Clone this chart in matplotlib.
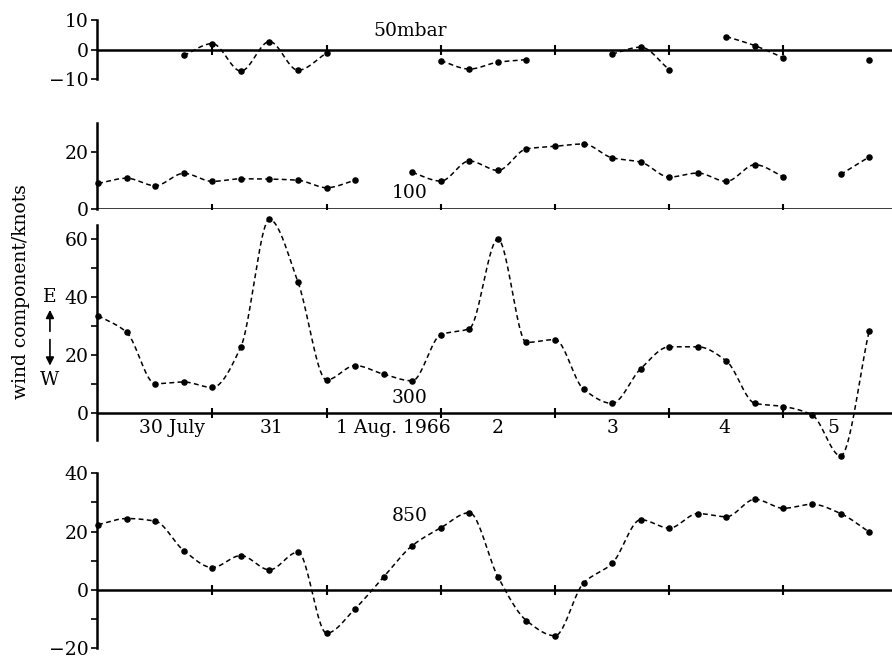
import numpy as np
import matplotlib.pyplot as plt
from matplotlib.patches import FancyArrowPatch

plt.rcParams['font.family'] = ['DejaVu Serif']

# zonal wind component (knots, E positive), every 6 h from 00 GMT 30 July 1966
nan = np.nan
days = np.arange(28) / 4.0
u_50 = [nan, nan, nan, -2.0, 2.0, -7.3, 2.7, -7.0, -1.2, nan, nan, nan,
        -3.8, -6.6, -4.3, -3.4, nan, nan, -1.5, 0.8, -6.8, nan,
        4.4, 1.3, -2.8, nan, nan, -3.4]
u_100 = [9.0, 10.8, 8.2, 12.5, 9.7, 10.6, 10.5, 10.1, 7.5, 10.1, nan,
         12.8, 9.8, 16.8, 13.5, 21.0, 21.9, 22.7, 17.9, 16.4, 11.2, 12.6,
         9.7, 15.5, 11.3, nan, 12.1, 18.2]
u_300 = [33.6, 27.8, 10.0, 10.6, 8.7, 22.8, 66.9, 45.2, 11.3, 16.3, 13.3,
         11.0, 27.0, 29.1, 60.1, 24.3, 25.3, 8.1, 3.2, 15.2, 22.8, 22.8,
         17.9, 3.2, 2.1, -0.8, -15.0, 28.3]
u_850 = [22.4, 24.5, 23.6, 13.5, 7.7, 11.8, 6.9, 13.0, -14.8, -6.4, 4.5,
         15.2, 21.3, 26.5, 4.5, -10.5, -15.7, 2.4, 9.1, 24.1, 21.2, 26.2,
         25.1, 31.1, 28.0, 29.4, 26.2, 19.9]

day_labels = ['30 July', '31', '1 Aug. 1966', '2', '3', '4', '5']
day_label_pos = [0.65, 1.52, 2.58, 3.5, 4.5, 5.48, 6.44]
day_ticks = [1, 2, 3, 4, 5, 6]


def smooth_curve(x, y, n=25):
    # monotone cubic (Fritsch-Carlson) through the points, for drawing only
    x = np.asarray(x, float)
    y = np.asarray(y, float)
    k = len(x)
    if k < 3:
        return x, y
    h = np.diff(x)
    d = np.diff(y) / h
    m = np.zeros(k)
    for i in range(1, k - 1):
        if d[i - 1] * d[i] > 0:
            w1 = 2 * h[i] + h[i - 1]
            w2 = h[i] + 2 * h[i - 1]
            m[i] = (w1 + w2) / (w1 / d[i - 1] + w2 / d[i])
    m[0] = d[0]
    m[-1] = d[-1]
    xs, ys = [], []
    for i in range(k - 1):
        t = np.linspace(0, 1, n)
        h00 = 2 * t**3 - 3 * t**2 + 1
        h10 = t**3 - 2 * t**2 + t
        h01 = -2 * t**3 + 3 * t**2
        h11 = t**3 - t**2
        xs.append(x[i] + t * h[i])
        ys.append(h00 * y[i] + h10 * h[i] * m[i] + h01 * y[i + 1]
                  + h11 * h[i] * m[i + 1])
    return np.concatenate(xs), np.concatenate(ys)


def draw_series(ax, x, y):
    y = np.asarray(y, float)
    ok = ~np.isnan(y)
    # split into runs of consecutive observations
    idx = np.where(ok)[0]
    runs = np.split(idx, np.where(np.diff(idx) > 1)[0] + 1)
    for r in runs:
        if len(r) > 1:
            sx, sy = smooth_curve(x[r], y[r])
            ax.plot(sx, sy, color='black', lw=1.1, dashes=(3.2, 2.2),
                    clip_on=False)
    ax.plot(x[ok], y[ok], 'o', color='black', ms=3.7, clip_on=False)


fig = plt.figure(figsize=(8.92, 6.59), dpi=100)

left = 0.1087
width = 1.0 - left
panels = [
    (u_50, (-10, 10), [10, 0, -10], [], [0.880, 0.0897], '50mbar', 6.4),
    (u_100, (0, 30), [20, 0], [], [0.6824, 0.131], '100', 5.7),
    (u_300, (-9.5, 65), [60, 40, 20, 0], [10, 30, 50], [0.3323, 0.3263], '300', 5.1),
    (u_850, (-20, 40), [40, 20, 0, -20], [-10, 10, 30], [0.0162, 0.2656], '850', 25.4),
]

axes = []
for vals, ylim, yt, ymt, (bot, hgt), name, name_y in panels:
    ax = fig.add_axes([left, bot, width, hgt])
    ax.patch.set_alpha(0)
    ax.set_xlim(-0.01, 6.95)
    ax.set_ylim(*ylim)
    for s in ['top', 'right', 'bottom']:
        ax.spines[s].set_visible(False)
    ax.spines['left'].set_linewidth(1.8)
    ax.set_xticks([])
    ax.set_yticks(yt)
    ax.set_yticks(ymt, minor=True)
    ax.tick_params(axis='y', which='both', direction='out', length=4,
                   width=1.2, labelsize=13.5, pad=2)
    ax.axhline(0, color='black', lw=1.8, zorder=1)
    ax.plot(day_ticks, np.zeros(len(day_ticks)), '|', color='black',
            ms=7, mew=1.5)
    draw_series(ax, days, vals)
    ax.text(2.73, name_y, name, ha='center', va='center', fontsize=13.5)
    axes.append(ax)

ax300 = axes[2]
for pos, lab in zip(day_label_pos, day_labels):
    ax300.text(pos, -2.2, lab, ha='center', va='top', fontsize=13.5)

fig.text(0.024, 0.557, 'wind component/knots', rotation=90,
         ha='center', va='center', fontsize=13.5)
fig.text(0.056, 0.549, 'E', ha='center', va='center', fontsize=13.5)
fig.text(0.056, 0.423, 'W', ha='center', va='center', fontsize=13.5)
fig.patches.append(FancyArrowPatch(
    (0.056, 0.493), (0.056, 0.534), transform=fig.transFigure,
    arrowstyle='-|>', mutation_scale=12, color='black', lw=1.2))
fig.patches.append(FancyArrowPatch(
    (0.056, 0.489), (0.056, 0.441), transform=fig.transFigure,
    arrowstyle='-|>', mutation_scale=12, color='black', lw=1.2))

fig.savefig('out.png', dpi=100)
